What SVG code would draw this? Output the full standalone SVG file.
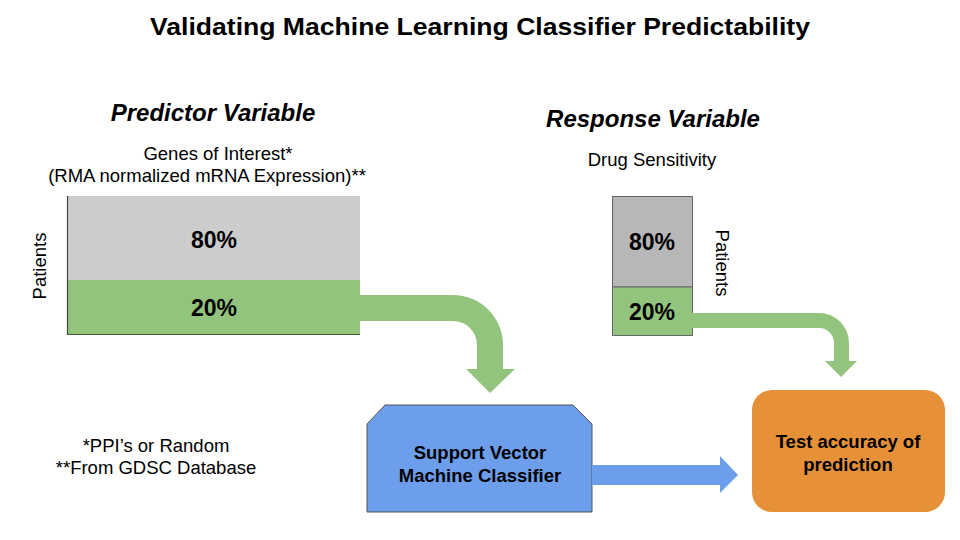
<svg xmlns="http://www.w3.org/2000/svg" width="960" height="540" viewBox="0 0 960 540">
<style>
  text { font-family: "Liberation Sans", Arial, sans-serif; fill: #000; }
  .title { font-size: 24px; font-weight: bold; text-anchor: middle; }
  .head { font-size: 24px; font-weight: bold; font-style: italic; text-anchor: middle; }
  .sub { font-size: 18.5px; text-anchor: middle; }
  .pct { font-size: 23px; font-weight: bold; text-anchor: middle; }
  .lbl { font-size: 18.5px; font-weight: bold; text-anchor: middle; }
  .green { fill: #93c47d; }
</style>
<rect width="960" height="540" fill="#fff"/>
<text class="title" x="480" y="35" textLength="660" lengthAdjust="spacingAndGlyphs">Validating Machine Learning Classifier Predictability</text>

<g id="predictor">
  <text class="head" x="213" y="121">Predictor Variable</text>
  <text class="sub" x="218" y="160">Genes of Interest*</text>
  <text class="sub" x="207" y="182">(RMA normalized mRNA Expression)**</text>
  <rect x="67" y="196" width="293" height="84" fill="#cccccc"/>
  <rect x="67" y="280" width="293" height="55" class="green"/>
  <line x1="67.5" y1="196" x2="67.5" y2="335" stroke="#444" stroke-width="1.2"/>
  <line x1="67" y1="334.5" x2="360" y2="334.5" stroke="#3c5a2c" stroke-width="1.2"/>
  <text class="pct" x="214" y="248">80%</text>
  <text class="pct" x="214" y="316">20%</text>
  <text class="sub" transform="translate(46,266) rotate(-90)">Patients</text>
</g>

<g id="response">
  <text class="head" x="653" y="127">Response Variable</text>
  <text class="sub" x="652" y="166">Drug Sensitivity</text>
  <rect x="612.5" y="196.5" width="80" height="90.5" fill="#b7b7b7" stroke="#666" stroke-width="1"/>
  <rect x="612.5" y="287" width="80" height="48.5" class="green" stroke="#666" stroke-width="1"/>
  <text class="pct" x="652" y="250">80%</text>
  <text class="pct" x="652" y="320">20%</text>
  <text class="sub" transform="translate(716,263) rotate(90)">Patients</text>
</g>

<g id="notes">
  <text class="sub" x="156" y="452">*PPI’s or Random</text>
  <text class="sub" x="156" y="474">**From GDSC Database</text>
</g>

<g id="svm">
  <path d="M385,405 H573 L592,424 V512 H367 V424 Z" fill="#6d9eeb" stroke="#555" stroke-width="1"/>
  <text class="lbl" x="480" y="459">Support Vector</text>
  <text class="lbl" x="480" y="482">Machine Classifier</text>
</g>

<g id="test">
  <rect x="752" y="390" width="193" height="122" rx="20" ry="20" fill="#e69138"/>
  <text class="lbl" x="848" y="448">Test accuracy of</text>
  <text class="lbl" x="848" y="471">prediction</text>
</g>

<g id="connectors">
  <path class="green" d="M360,295 H453 A50,50 0 0 1 503,345 V369 H515 L490,393 L466,369 H477 V345 A24,24 0 0 0 453,321 H360 Z"/>
  <path class="green" d="M692,313 H819 A30,30 0 0 1 849,343 V361 H857 L841,377 L825,361 H834 V343 A15,15 0 0 0 819,328 H692 Z"/>
  <path d="M592,465 H720 V456 L738,475 L720,493 V485 H592 Z" fill="#6d9eeb"/>
</g>
</svg>
